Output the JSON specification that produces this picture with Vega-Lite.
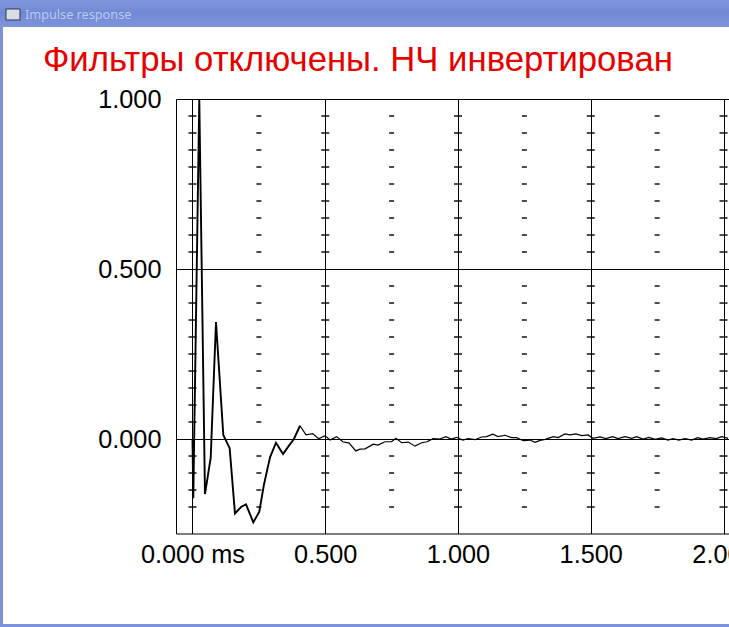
{"$schema":"https://vega.github.io/schema/vega-lite/v6.json","width":553,"height":434.5,"autosize":"none","padding":{"left":176,"top":99,"right":0,"bottom":93.5},"background":"#ffffff","title":{"text":"Фильтры отключены. НЧ инвертирован","anchor":"start","frame":"group","dx":-133,"offset":-105.5,"baseline":"alphabetic","font":"Liberation Sans","fontSize":34.7,"fontWeight":"normal","color":"#e60000"},"config":{"view":{"stroke":null}},"datasets":{"resp":[{"t":0,"a":0},{"t":0.003,"a":-0.174},{"t":0.0256,"a":1.0},{"t":0.047,"a":-0.162},{"t":0.0686,"a":-0.055},{"t":0.0885,"a":0.344},{"t":0.116,"a":0.012},{"t":0.14,"a":-0.027},{"t":0.16,"a":-0.219},{"t":0.183,"a":-0.2},{"t":0.2015,"a":-0.192},{"t":0.229,"a":-0.245},{"t":0.2516,"a":-0.214},{"t":0.269,"a":-0.135},{"t":0.292,"a":-0.054},{"t":0.3145,"a":-0.011},{"t":0.341,"a":-0.044},{"t":0.36,"a":-0.023},{"t":0.382,"a":0.0},{"t":0.405,"a":0.039},{"t":0.4275,"a":0.012},{"t":0.4527,"a":0.016},{"t":0.475,"a":0.001},{"t":0.499,"a":0.01},{"t":0.518,"a":-0.003},{"t":0.543,"a":0.007},{"t":0.566,"a":-0.008},{"t":0.59,"a":-0.012},{"t":0.615,"a":-0.035},{"t":0.631,"a":-0.03},{"t":0.65,"a":-0.029},{"t":0.681,"a":-0.015},{"t":0.699,"a":-0.018},{"t":0.725,"a":-0.008},{"t":0.75,"a":-0.008},{"t":0.766,"a":0.002},{"t":0.788,"a":-0.011},{"t":0.812,"a":-0.009},{"t":0.838,"a":-0.021},{"t":0.863,"a":-0.011},{"t":0.883,"a":-0.008},{"t":0.906,"a":0.001},{"t":0.932,"a":0.0},{"t":0.954,"a":0.007},{"t":0.974,"a":0.0},{"t":0.995,"a":0.005},{"t":1.018,"a":-0.003},{"t":1.038,"a":0.001},{"t":1.064,"a":-0.002},{"t":1.089,"a":0.006},{"t":1.108,"a":0.007},{"t":1.131,"a":0.014},{"t":1.151,"a":0.007},{"t":1.177,"a":0.011},{"t":1.202,"a":0.004},{"t":1.221,"a":0.004},{"t":1.246,"a":-0.005},{"t":1.271,"a":-0.003},{"t":1.29,"a":-0.01},{"t":1.309,"a":-0.004},{"t":1.328,"a":-0.001},{"t":1.359,"a":0.007},{"t":1.377,"a":0.004},{"t":1.403,"a":0.015},{"t":1.422,"a":0.012},{"t":1.444,"a":0.015},{"t":1.466,"a":0.01},{"t":1.49,"a":0.012},{"t":1.508,"a":0.002},{"t":1.535,"a":0.006},{"t":1.557,"a":0.001},{"t":1.583,"a":0.007},{"t":1.603,"a":0.001},{"t":1.629,"a":0.007},{"t":1.654,"a":0.002},{"t":1.673,"a":0.007},{"t":1.697,"a":0.0},{"t":1.719,"a":0.005},{"t":1.742,"a":-0.001},{"t":1.767,"a":0.003},{"t":1.791,"a":-0.003},{"t":1.81,"a":0.001},{"t":1.832,"a":-0.003},{"t":1.855,"a":0.001},{"t":1.88,"a":-0.003},{"t":1.903,"a":0.004},{"t":1.923,"a":0.0},{"t":1.949,"a":0.004},{"t":1.972,"a":0.001},{"t":1.993,"a":0.007},{"t":2.017,"a":0.002}],"majorDash":[{"t":0,"v":[0.95,0.9,0.85,0.8,0.75,0.7,0.65,0.6,0.55,0.45,0.4,0.35,0.3,0.25,0.2,0.15,0.1,0.05,-0.05,-0.1,-0.15,-0.2]},{"t":0.5,"v":[0.95,0.9,0.85,0.8,0.75,0.7,0.65,0.6,0.55,0.45,0.4,0.35,0.3,0.25,0.2,0.15,0.1,0.05,-0.05,-0.1,-0.15,-0.2]},{"t":1,"v":[0.95,0.9,0.85,0.8,0.75,0.7,0.65,0.6,0.55,0.45,0.4,0.35,0.3,0.25,0.2,0.15,0.1,0.05,-0.05,-0.1,-0.15,-0.2]},{"t":1.5,"v":[0.95,0.9,0.85,0.8,0.75,0.7,0.65,0.6,0.55,0.45,0.4,0.35,0.3,0.25,0.2,0.15,0.1,0.05,-0.05,-0.1,-0.15,-0.2]},{"t":2,"v":[0.95,0.9,0.85,0.8,0.75,0.7,0.65,0.6,0.55,0.45,0.4,0.35,0.3,0.25,0.2,0.15,0.1,0.05,-0.05,-0.1,-0.15,-0.2]}],"minorDash":[{"t":0.25,"v":[0.95,0.9,0.85,0.8,0.75,0.7,0.65,0.6,0.55,0.45,0.4,0.35,0.3,0.25,0.2,0.15,0.1,0.05,-0.05,-0.1,-0.15,-0.2]},{"t":0.75,"v":[0.95,0.9,0.85,0.8,0.75,0.7,0.65,0.6,0.55,0.45,0.4,0.35,0.3,0.25,0.2,0.15,0.1,0.05,-0.05,-0.1,-0.15,-0.2]},{"t":1.25,"v":[0.95,0.9,0.85,0.8,0.75,0.7,0.65,0.6,0.55,0.45,0.4,0.35,0.3,0.25,0.2,0.15,0.1,0.05,-0.05,-0.1,-0.15,-0.2]},{"t":1.75,"v":[0.95,0.9,0.85,0.8,0.75,0.7,0.65,0.6,0.55,0.45,0.4,0.35,0.3,0.25,0.2,0.15,0.1,0.05,-0.05,-0.1,-0.15,-0.2]}]},"layer":[{"data":{"name":"majorDash"},"transform":[{"flatten":["v"]}],"mark":{"type":"tick","orient":"horizontal","size":8,"thickness":1.4,"color":"#000000","opacity":1},"encoding":{"x":{"field":"t","type":"quantitative","scale":{"domain":[-0.0621,2.0207],"nice":false,"zero":false},"axis":{"values":[0,0.5,1,1.5,2],"title":null,"grid":true,"gridColor":"#000000","gridOpacity":1,"gridWidth":1,"domainColor":"#000000","domainWidth":1,"ticks":false,"labelFont":"Liberation Sans","labelFontSize":25.3,"labelColor":"#000000","labelPadding":9,"labelBound":false,"labelFlush":false,"labelOverlap":false,"labelExpr":"datum.value === 0 ? '0.000 ms' : format(datum.value, '.3f')"}},"y":{"field":"v","type":"quantitative","scale":{"domain":[-0.2779,1],"nice":false,"zero":false},"axis":{"values":[0,0.5,1],"format":".3f","title":null,"grid":true,"gridColor":"#000000","gridOpacity":1,"gridWidth":1,"domainColor":"#000000","domainWidth":1,"ticks":false,"labelFont":"Liberation Sans","labelFontSize":25.3,"labelColor":"#000000","labelPadding":15,"labelBound":false,"labelFlush":false,"labelOverlap":false}}}},{"data":{"name":"minorDash"},"transform":[{"flatten":["v"]}],"mark":{"type":"tick","orient":"horizontal","size":5,"thickness":1.4,"color":"#000000","opacity":1},"encoding":{"x":{"field":"t","type":"quantitative"},"y":{"field":"v","type":"quantitative"}}},{"data":{"name":"resp"},"transform":[{"filter":"datum.t <= 0.405"}],"mark":{"type":"line","color":"#000000","strokeWidth":1.9,"strokeJoin":"miter"},"encoding":{"x":{"field":"t","type":"quantitative"},"y":{"field":"a","type":"quantitative"},"order":{"field":"t"}}},{"data":{"name":"resp"},"transform":[{"filter":"datum.t >= 0.405"}],"mark":{"type":"line","color":"#000000","strokeWidth":1.2,"strokeJoin":"miter"},"encoding":{"x":{"field":"t","type":"quantitative"},"y":{"field":"a","type":"quantitative"},"order":{"field":"t"}}},{"data":{"values":[{"part":"titlebar"}]},"mark":{"type":"rect","color":{"gradient":"linear","x1":0,"y1":0,"x2":0,"y2":1,"stops":[{"offset":0,"color":"#7f97de"},{"offset":0.5,"color":"#7189d4"},{"offset":1,"color":"#7d95dc"}]}},"encoding":{"x":{"datum":-0.7251},"x2":{"datum":2.0207},"y":{"datum":1.2912},"y2":{"datum":1.2118}}},{"data":{"values":[{"part":"left"}]},"mark":{"type":"rect","color":"#7b93dc"},"encoding":{"x":{"datum":-0.7251},"x2":{"datum":-0.7138},"y":{"datum":1.2118},"y2":{"datum":-0.5529}}},{"data":{"values":[{"part":"bottom"}]},"mark":{"type":"rect","color":"#7b93dc"},"encoding":{"x":{"datum":-0.7251},"x2":{"datum":2.0207},"y":{"datum":-0.5441},"y2":{"datum":-0.5529}}},{"data":{"values":[{"part":"icon"}]},"mark":{"type":"rect","color":"#d8dde8","stroke":"#30384f","strokeWidth":1},"encoding":{"x":{"datum":-0.7024},"x2":{"datum":-0.6497},"y":{"datum":1.2647},"y2":{"datum":1.2324}}},{"data":{"values":[{"caption":"Impulse response"}]},"mark":{"type":"text","align":"left","baseline":"middle","font":"Noto Sans","fontSize":12.7,"color":"#bccaf0"},"encoding":{"text":{"field":"caption"},"x":{"datum":-0.6309},"y":{"datum":1.247}}}]}
